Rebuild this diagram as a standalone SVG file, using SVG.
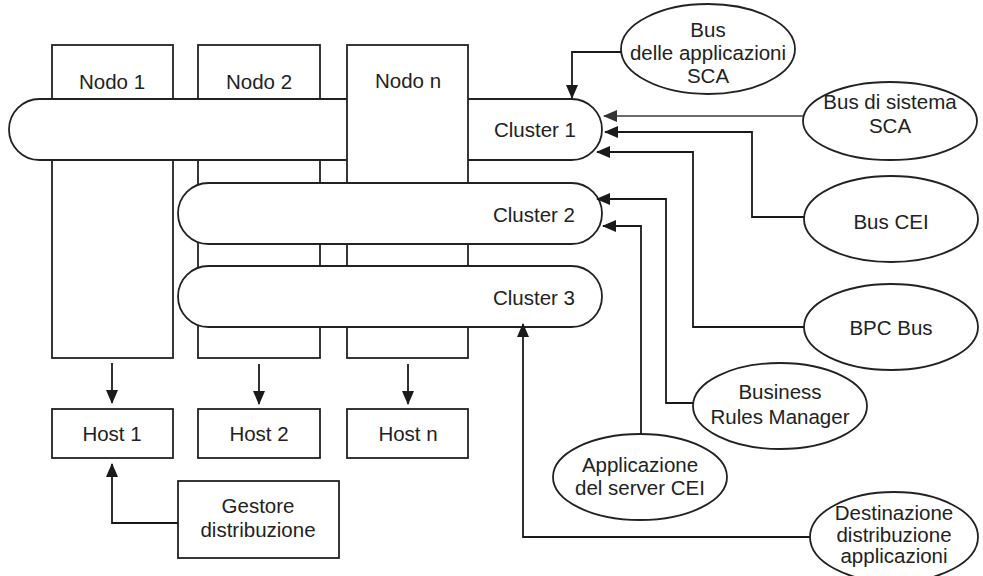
<svg xmlns="http://www.w3.org/2000/svg" width="983" height="576" viewBox="0 0 983 576">
<defs>
<marker id="ah" markerUnits="userSpaceOnUse" markerWidth="14" markerHeight="12" viewBox="0 0 14 12" refX="13" refY="6" orient="auto">
<path d="M0,0 L14,6 L0,12 Z" fill="#1a1a1a"/>
</marker>
<marker id="ahg" markerUnits="userSpaceOnUse" markerWidth="14" markerHeight="12" viewBox="0 0 14 12" refX="13" refY="6" orient="auto">
<path d="M0,0 L14,6 L0,12 Z" fill="#333"/>
</marker>
</defs>
<style>
.box{fill:#fff;stroke:#222;stroke-width:1.8}
.t{font-family:"Liberation Sans",Arial,sans-serif;font-size:20.5px;fill:#222;text-anchor:middle}
.c{fill:none;stroke:#1a1a1a;stroke-width:1.8;marker-end:url(#ah)}
.cg{fill:none;stroke:#3a3a3a;stroke-width:1.4;marker-end:url(#ahg)}
</style>
<rect width="983" height="576" fill="#fff"/>

<g id="nodo1"><rect class="box" x="52" y="45" width="121" height="313"/><text class="t" x="112" y="89">Nodo 1</text></g>
<g id="nodo2"><rect class="box" x="198" y="45" width="122" height="313"/><text class="t" x="259" y="89">Nodo 2</text></g>
<g id="cluster1"><rect class="box" x="9" y="99" width="593" height="61" rx="30.5"/><text class="t" x="535" y="137">Cluster 1</text></g>
<g id="nodon"><rect class="box" x="347" y="45" width="121" height="313"/><text class="t" x="408" y="88">Nodo n</text></g>
<g id="cluster2"><rect class="box" x="178" y="183" width="424" height="61" rx="30.5"/><text class="t" x="534" y="222">Cluster 2</text></g>
<g id="cluster3"><rect class="box" x="178" y="266" width="424" height="61" rx="30.5"/><text class="t" x="534" y="305">Cluster 3</text></g>

<g id="host1"><rect class="box" x="52" y="409" width="121" height="49"/><text class="t" x="112" y="441">Host 1</text></g>
<g id="host2"><rect class="box" x="198" y="409" width="122" height="49"/><text class="t" x="259" y="441">Host 2</text></g>
<g id="hostn"><rect class="box" x="347" y="409" width="121" height="49"/><text class="t" x="408" y="441">Host n</text></g>
<g id="gestore"><rect class="box" x="178" y="481" width="161" height="77"/><text class="t" x="258" y="513">Gestore</text><text class="t" x="258" y="537">distribuzione</text></g>

<g id="busapp"><ellipse class="box" cx="708" cy="49" rx="87" ry="45"/><text class="t" x="708" y="37">Bus</text><text class="t" x="708" y="60">delle applicazioni</text><text class="t" x="708" y="83">SCA</text></g>
<g id="bussis"><ellipse class="box" cx="890" cy="121" rx="87" ry="39"/><text class="t" x="890" y="109">Bus di sistema</text><text class="t" x="890" y="133">SCA</text></g>
<g id="buscei"><ellipse class="box" cx="891" cy="219" rx="87" ry="43"/><text class="t" x="891" y="229">Bus CEI</text></g>
<g id="bpcbus"><ellipse class="box" cx="891" cy="327" rx="87" ry="43"/><text class="t" x="891" y="335">BPC Bus</text></g>
<g id="brm"><ellipse class="box" cx="780" cy="406" rx="87" ry="43"/><text class="t" x="780" y="399">Business</text><text class="t" x="780" y="424">Rules Manager</text></g>
<g id="appcei"><ellipse class="box" cx="640" cy="477" rx="87" ry="43"/><text class="t" x="640" y="472">Applicazione</text><text class="t" x="640" y="495">del server CEI</text></g>
<g id="destapp"><ellipse class="box" cx="894" cy="537" rx="84" ry="45"/><text class="t" x="894" y="520">Destinazione</text><text class="t" x="894" y="542">distribuzione</text><text class="t" x="894" y="563">applicazioni</text></g>

<g id="connectors">
<path class="c" d="M621,52 H572 V98"/>
<path class="cg" d="M803,116 H604"/>
<path class="c" d="M804,217 H752 V132 H605"/>
<path class="c" d="M804,327 H693 V152 H597"/>
<path class="c" d="M693,403 H666 V199 H597"/>
<path class="c" d="M641,434 V226 H603"/>
<path class="c" d="M810,537 H523 V324"/>
<path class="c" d="M112,363 V403"/>
<path class="c" d="M259,364 V404"/>
<path class="c" d="M408,364 V404"/>
<path class="c" d="M178,523 H112 V464"/>
</g>
</svg>
